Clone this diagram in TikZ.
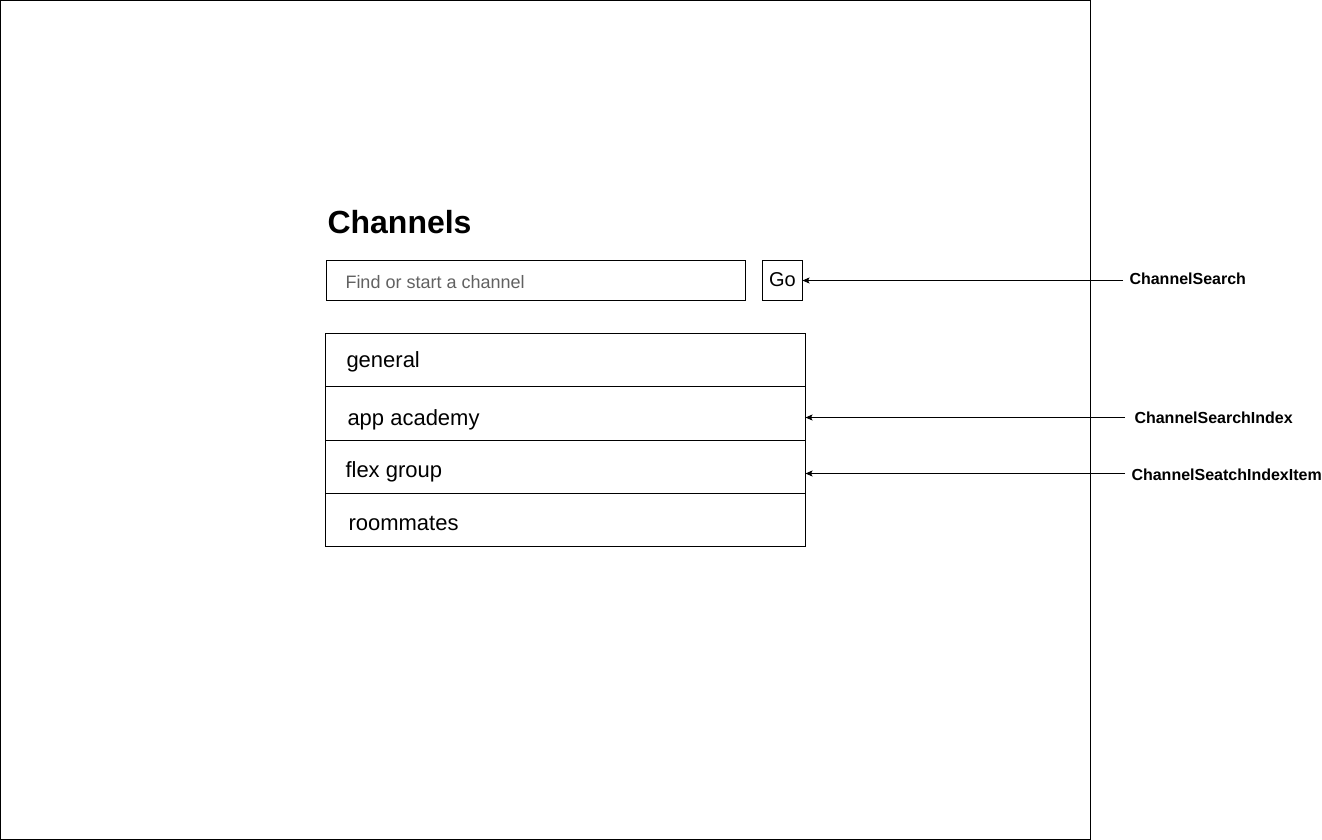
\documentclass[tikz,border=0pt]{standalone}
\usepackage{fontspec}
\setmainfont{Liberation Sans}
\usetikzlibrary{arrows.meta}
\begin{document}
\begin{tikzpicture}[x=1pt,y=-1pt,line width=1pt,
  box/.style={draw=black,anchor=north west,inner sep=0pt,outer sep=0pt},
  itemtext/.style={anchor=west,inner sep=0pt,font=\fontsize{22}{26}\selectfont},
  lbl/.style={anchor=west,inner sep=0pt,font=\fontsize{16}{19}\selectfont\bfseries},
  pointer/.style={-{Stealth[length=7pt,width=6pt,inset=1.5pt]},line width=0.8pt}]
\useasboundingbox (0,0) rectangle (1322,840);
\node[box,minimum width=1089.5pt,minimum height=838.5pt] (frame) at (0.5,0.5) {};
\node[anchor=west,inner sep=0pt,font=\fontsize{32}{38}\selectfont\bfseries] (title) at (327,222) {Channels};
\node[box,minimum width=419pt,minimum height=40pt] (search) at (326,260.5) {};
\node[anchor=west,inner sep=0pt,text=black!62,font=\fontsize{18}{22}\selectfont] (ph) at (345,282) {Find or start a channel};
\node[box,minimum width=40pt,minimum height=40pt] (go) at (762.5,260.5) {};
\node[inner sep=0pt,font=\fontsize{20}{24}\selectfont] (gotext) at (782.5,280) {Go};
\node[box,minimum width=480pt,minimum height=53pt] (i1) at (325.5,333.5) {};
\node[box,minimum width=480pt,minimum height=54pt] (i2) at (325.5,386.5) {};
\node[box,minimum width=480pt,minimum height=53pt] (i3) at (325.5,440.5) {};
\node[box,minimum width=480pt,minimum height=53pt] (i4) at (325.5,493.5) {};
\node[itemtext] (t1) at (346,362) {general};
\node[itemtext] (t2) at (347,419.5) {app academy};
\node[itemtext] (t3) at (345,471.5) {flex group};
\node[itemtext] (t4) at (348,523) {roommates};
\node[lbl] (l1) at (1129,279) {ChannelSearch};
\node[lbl] (l2) at (1134,418) {ChannelSearchIndex};
\node[lbl] (l3) at (1131,475) {ChannelSeatchIndexItem};
\coordinate (s1) at (1123,280.5);
\coordinate (s2) at (1125,417.5);
\coordinate (s3) at (1125,473.5);
\draw[pointer] (s1) -- (s1 -| go.east);
\draw[pointer] (s2) -- (s2 -| i2.east);
\draw[pointer] (s3) -- (s3 -| i3.east);
\end{tikzpicture}
\end{document}
